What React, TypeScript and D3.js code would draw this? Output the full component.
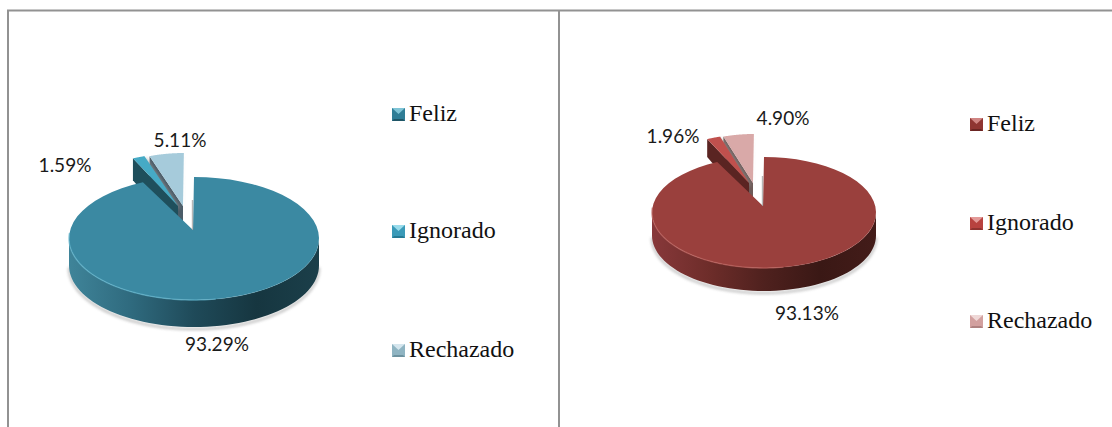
import React from "react";
import * as d3 from "d3";

const categories = ["Feliz", "Ignorado", "Rechazado"];
const tealValues = [93.29, 1.59, 5.11];
const redValues = [93.13, 1.96, 4.9];
const tealLabels = ["93.29%", "1.59%", "5.11%"];
const redLabels = ["93.13%", "1.96%", "4.90%"];

const tealStyle = {
  id: "teal",
  top: ["#3b89a2", "#46aac5", "#a6cbdb"],
  wall: ["#3b89a2", "#1f4f5c", "#4b5c68"],
  grad: ["#3f8499", "#2f6a7e", "#1f4a59", "#163640", "#1b3f4a"],
  rim: "#5fb2ca",
  swatch: [
    ["#2f7d96", "#7fc4d6", "#1f5566"],
    ["#3a9ab8", "#9adcec", "#267a94"],
    ["#8fb4c2", "#d5e6ee", "#6d929f"],
  ],
};
const redStyle = {
  id: "red",
  top: ["#9a403d", "#c0504d", "#d9a9a8"],
  wall: ["#9a403d", "#5a2422", "#6e5a58"],
  grad: ["#87383a", "#6e2d2a", "#4f211e", "#3a1815", "#431c19"],
  rim: "#b95f5b",
  swatch: [
    ["#8f3532", "#d08583", "#6a2523"],
    ["#b8423f", "#e39a98", "#8f3330"],
    ["#d2a09f", "#efd8d7", "#ae8180"],
  ],
};

const tealLayout = {
  cx: 194, cy: 238.5, rx: 125, ry: 61.5, depth: 27, apex: [193, 230],
  shift: [-10, -24], squeeze: [1, 1, 0.87], tipPull: [0, -5, 0],
  labels: [[217, 351], [65, 172], [180, 147]],
  legendX: 392, legendY: [121, 238, 357],
};
const redLayout = {
  cx: 764, cy: 212.5, rx: 112, ry: 55.5, depth: 23, apex: [763, 206],
  shift: [-10, -23], squeeze: [1, 1, 0.9], tipPull: [0, -4, 0],
  labels: [[807, 320], [673, 143], [783, 125]],
  legendX: 970, legendY: [131, 230, 328],
};

function Pie({ values, labels, style, layout }: any) {
  const { cx, cy, rx, ry, depth, apex, shift, squeeze, tipPull } = layout;
  const arcs = d3.pie<number>().sort(null).startAngle(0).endAngle(2 * Math.PI)(values);
  const edge = (t: number, k = 1) => {
    return [
      apex[0] + (cx + rx * Math.sin(t) - apex[0]) * k,
      cy - ry * Math.cos(t),
    ];
  };
  const line = d3.line();
  const sample = (a: number, b: number, k = 1) =>
    d3.range(0, 61).map((i) => edge(a + ((b - a) * i) / 60, k));
  const main = arcs[0];
  const rad = (d: number) => (d * Math.PI) / 180;
  const frontA = Math.PI / 2;
  const frontB = (3 * Math.PI) / 2;
  const front = sample(frontA, frontB);
  const wallPts = [...front, ...[...front].reverse().map(([x, y]) => [x, y + depth])];
  const topPts = [apex, ...sample(main.startAngle, main.endAngle)];
  const gradId = `grad-${style.id}`;
  const blurId = `blur-${style.id}`;
  const gradScale = d3.scaleLinear().domain([0, style.grad.length - 1]).range([cx - rx, cx + rx]);
  const shadowPts = front.map(([x, y]) => [x, y + depth + 2]);

  return (
    <g>
      <defs>
        <linearGradient id={gradId} gradientUnits="userSpaceOnUse" x1={gradScale(0)} x2={gradScale(style.grad.length - 1)} y1={0} y2={0}>
          {style.grad.map((c: string, i: number) => (
            <stop key={i} offset={i / (style.grad.length - 1)} stopColor={c} />
          ))}
        </linearGradient>
        <filter id={blurId} x="-10%" y="-30%" width="120%" height="160%">
          <feGaussianBlur stdDeviation="1.4" />
        </filter>
      </defs>
      <path d={line(shadowPts as any) + ""} fill="none" stroke="#777" strokeWidth={2} opacity={0.55} filter={`url(#${blurId})`} />
      {/* exploded slices: last category first, so the next one overlaps it */}
      {[2, 1].map((i) => {
        const a = arcs[i];
        const k = squeeze[i];
        const rim = sample(a.startAngle, a.endAngle, k).map(([x, y]) => [x + shift[0], y + shift[1]]);
        const tip = [apex[0] + shift[0] + tipPull[i], apex[1] + shift[1]];
        const pts = [tip, ...rim];
        const corner = rim[0];
        const wall = [corner, [corner[0], corner[1] + depth - 5], [tip[0], tip[1] + depth], tip];
        const last = rim[rim.length - 1];
        return (
          <g key={i}>
            <path d={line([tip, last, [last[0], last[1] + 8], [tip[0], tip[1] + 4]] as any) + "Z"} fill="#999" opacity={0.6} transform="translate(1.5,0)" filter={`url(#${blurId})`} />
            <path d={line(wall as any) + "Z"} fill={style.wall[i]} />
            <path d={line(pts as any) + "Z"} fill={style.top[i]} />
          </g>
        );
      })}
      <path d={line(wallPts as any) + "Z"} fill={`url(#${gradId})`} />
      <path d={line(topPts as any) + "Z"} fill={style.top[0]} />
      <path d={line(sample(rad(275), rad(170)) as any) + ""} fill="none" stroke={style.rim} strokeWidth={1.4} opacity={0.7} />
      <path d={line(sample(rad(170), rad(100)) as any) + ""} fill="none" stroke={style.rim} strokeWidth={1} opacity={0.25} />
      <line x1={apex[0] - 0.5} x2={apex[0] - 0.5} y1={apex[1] - 30} y2={apex[1]} stroke="#888" strokeWidth={1.4} opacity={0.6} />
      {labels.map((t: string, i: number) => (
        <text key={t} x={layout.labels[i][0]} y={layout.labels[i][1]} textAnchor="middle" fontFamily="Lato" fontSize={19} fill="#1a1a1a">
          {t}
        </text>
      ))}
    </g>
  );
}

function Legend({ style, layout }: any) {
  const s = 13;
  return (
    <g>
      {categories.map((c, i) => {
        const x = layout.legendX;
        const y = layout.legendY[i] - 13;
        const [base, light, dark] = style.swatch[i];
        return (
          <g key={c}>
            <rect x={x} y={y} width={s} height={s} fill={base} />
            <path d={`M${x},${y}H${x + s}L${x + s / 2},${y + 6}Z`} fill={light} />
            <path d={`M${x},${y + s}H${x + s}L${x + s - 2},${y + s - 2}H${x + 2}Z`} fill={dark} />
            <text x={x + 17} y={layout.legendY[i]} fontFamily="Liberation Serif" fontSize={24} fill="#111">
              {c}
            </text>
          </g>
        );
      })}
    </g>
  );
}

export default function App() {
  return (
    <svg width={1112} height={427} viewBox="0 0 1112 427" style={{ position: "absolute", left: 0, top: 0, background: "#fff" }}>
      <g stroke="#929292" strokeWidth={2} fill="none">
        <path d="M8,427V10.5H1112" />
        <path d="M559,10.5V427" />
      </g>
      <Pie values={tealValues} labels={tealLabels} style={tealStyle} layout={tealLayout} />
      <Legend style={tealStyle} layout={tealLayout} />
      <Pie values={redValues} labels={redLabels} style={redStyle} layout={redLayout} />
      <Legend style={redStyle} layout={redLayout} />
    </svg>
  );
}
